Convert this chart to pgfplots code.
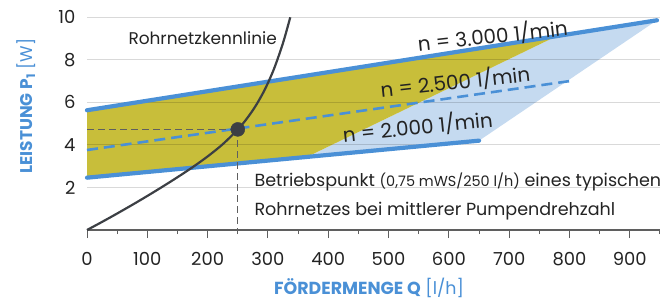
\documentclass[border=0pt]{standalone}
\usepackage{fontspec}
\setmainfont{Poppins}
\usepackage{pgfplots}
\pgfplotsset{compat=1.18}
\definecolor{lineblue}{RGB}{74,144,214}
\definecolor{fillyellow}{RGB}{200,190,58}
\definecolor{fillblue}{RGB}{197,218,240}
\definecolor{curvegray}{RGB}{60,63,68}
\definecolor{txt}{RGB}{35,35,35}
\definecolor{axisgray}{RGB}{95,95,95}
\begin{document}
\begin{tikzpicture}
\begin{axis}[
  set layers,
  at={(0bp,0bp)}, anchor=south west,
  scale only axis, width=573bp, height=212.7bp,
  xmin=0, xmax=950, ymin=0, ymax=10,
  axis lines=left,
  x axis line style={-, axisgray, line width=1.2bp},
  y axis line style={draw=none},
  xtick={0,100,...,900},
  minor xtick={50,150,...,950},
  ytick={2,4,6,8,10},
  tick align=outside,
  major tick length=8bp, minor tick length=4bp,
  xtick style={axisgray, line width=1bp},
  ytick style={draw=none},
  ymajorgrids,
  grid style={black, opacity=0.15, line width=1bp},
  /pgf/number format/assume math mode=true,
  /pgf/number format/1000 sep={},
  ticklabel style={font=\fontsize{18}{20}\selectfont, text=txt},
  xticklabel style={yshift=-11bp},
  clip=false,
]
\addplot[fill=fillblue, draw=none, on layer=axis background] coordinates {(365,3.44) (650,4.2) (945,9.86) (779,9.12)} -- cycle;
\addplot[fill=fillyellow, draw=none, on layer=axis background] coordinates {(0,2.46) (0,5.63) (779,9.12) (365,3.44)} -- cycle;
% n = 2500
\addplot[lineblue, line width=2.6bp, dash pattern=on 11bp off 6bp] coordinates {(0,3.76) (800,7.0)};
% n = 3000
\addplot[lineblue, line width=4.2bp, line cap=round] coordinates {(0,5.63) (945,9.86)};
% n = 2000
\addplot[lineblue, line width=4.2bp, line cap=round] coordinates {(0,2.46) (650,4.2)};
% operating point guide lines
\addplot[axisgray, line width=1.1bp, dash pattern=on 7bp off 4bp] coordinates {(0,4.73) (250,4.73)};
\addplot[axisgray, line width=1.1bp, dash pattern=on 7bp off 4bp] coordinates {(250,4.73) (250,0)};
% Rohrnetzkennlinie
\addplot[curvegray, line width=2.2bp, smooth] coordinates {
(0,0) (25,0.381) (50,0.775) (75,1.181) (100,1.600) (125,2.033) (150,2.481)
(175,2.951) (200,3.459) (225,4.032) (250,4.726) (265,5.236) (280,5.853)
(295,6.614) (310,7.573) (325,8.794) (337,10.0)};
\addplot[only marks, mark=*, mark size=7bp, curvegray] coordinates {(250,4.73)};
\end{axis}
\begin{scope}[text=txt]
\node[anchor=base west, font=\fontsize{17}{20}\selectfont] at (38bp,185bp) {Rohrnetzkennlinie};
\node[anchor=base, rotate=6.3, font=\fontsize{20}{22}\selectfont] at (406.5bp,186.5bp) {n = 3.000 1/min};
\node[anchor=base, rotate=6.3, font=\fontsize{20}{22}\selectfont] at (369bp,140.5bp) {n = 2.500 1/min};
\node[anchor=base, rotate=5.8, font=\fontsize{20}{22}\selectfont] at (331.5bp,95.5bp) {n = 2.000 1/min};
\node[anchor=base west, font=\fontsize{17.6}{20}\selectfont] at (164bp,43bp) {Betriebspunkt {\fontsize{14.5}{16}\selectfont(0,75 mWS/250 l/h)} eines typischen};
\node[anchor=base west, font=\fontsize{17.6}{20}\selectfont] at (164bp,15bp) {Rohrnetzes bei mittlerer Pumpendrehzahl};
\end{scope}
\node[rotate=90, text=lineblue, font=\fontsize{17}{18}\selectfont] at (-61bp,124bp) {\textbf{LEISTUNG P\textsubscript{1}} [W]};
\node[anchor=base, inner sep=0pt, text=lineblue, font=\fontsize{17.5}{18}\selectfont] at (282bp,-64bp) {\textbf{FÖRDERMENGE Q} [l/h]};
\pgfresetboundingbox
\path[use as bounding box] (-87bp,-69bp) rectangle (584bp,230bp);
\end{tikzpicture}
\end{document}
